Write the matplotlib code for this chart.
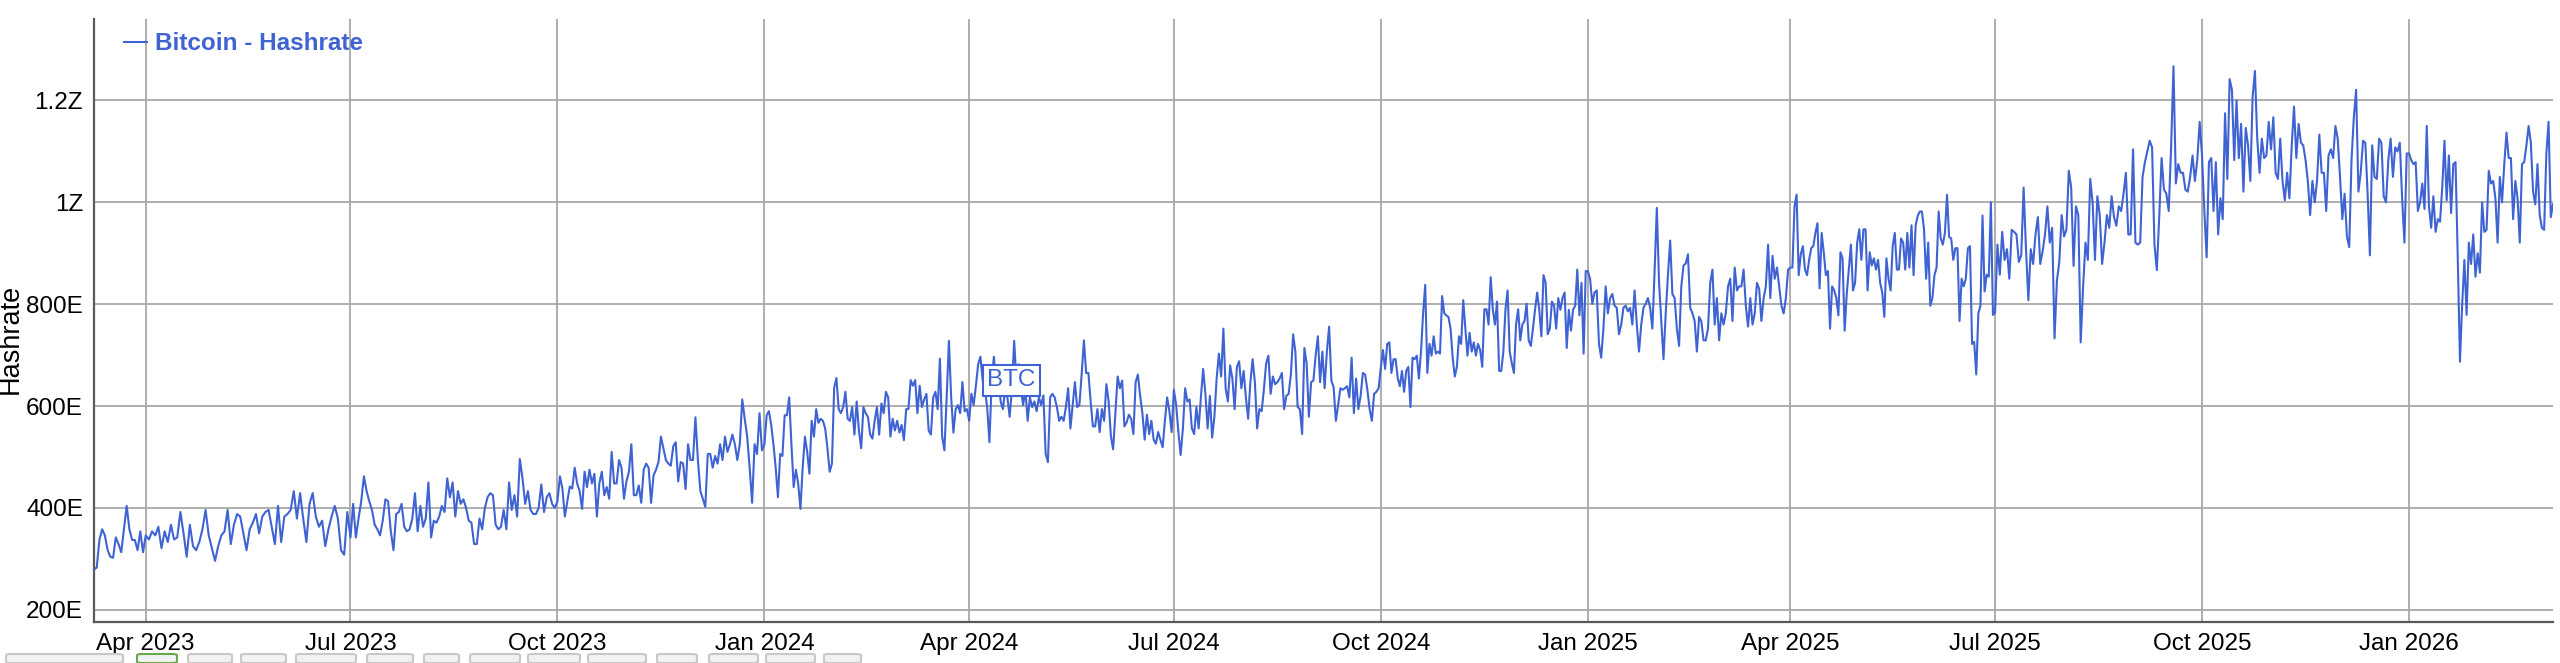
import numpy as np
import matplotlib
matplotlib.use('Agg')
import matplotlib.pyplot as plt
import matplotlib.dates as mdates
from matplotlib.patches import FancyBboxPatch

plt.rcParams['font.family'] = ['Liberation Sans', 'DejaVu Sans']

# Bitcoin hashrate (EH/s)
hr_2023_q1 = [279, 283, 338, 358, 346, 317, 304, 302, 342, 329, 313, 358, 404, 358, 337, 337, 317, 354, 313]
hr_2023_q2 = [346, 338, 354, 346, 363, 321, 354, 333, 367, 338, 342, 392, 350, 304, 367, 325, 317, 333, 358, 396,
              346, 321, 296, 325, 346, 354, 396, 329, 367, 388, 383, 350, 317, 358, 371, 388, 350, 383, 392, 396,
              363, 329, 404, 333, 383, 388, 396, 433, 379, 429, 379, 333, 408, 429, 383, 363, 375, 325, 358, 383,
              404, 379, 317, 308, 392]
hr_2023_q3 = [342, 408, 342, 379, 413, 462, 433, 413, 396, 367, 358, 346, 375, 417, 413, 354, 317, 388, 392, 408,
              363, 354, 358, 379, 429, 354, 404, 363, 379, 450, 342, 375, 371, 383, 404, 392, 458, 421, 450, 383,
              433, 408, 417, 400, 375, 371, 329, 329, 379, 358, 400, 421, 429, 425, 367, 358, 363, 396, 358, 450,
              396, 425, 383, 496, 458, 408, 433, 396, 388, 388, 400, 446, 392, 421, 429, 408, 400]
hr_2023_q4 = [413, 462, 438, 383, 413, 442, 438, 479, 448, 433, 398, 471, 441, 475, 448, 467, 383, 448, 471, 425,
              441, 418, 510, 448, 448, 494, 479, 418, 452, 471, 525, 425, 425, 444, 410, 475, 487, 479, 410, 464,
              475, 490, 540, 517, 494, 487, 483, 521, 529, 452, 490, 487, 437, 525, 494, 494, 578, 494, 433, 418,
              402, 506, 506, 479, 502, 487, 525, 494, 540, 510, 525, 544, 525, 494, 525, 613, 575, 540, 479, 410,
              525, 506, 586, 513]
hr_2024_q1 = [525, 582, 590, 563, 525, 479, 421, 506, 502, 582, 582, 617, 525, 441, 475, 448, 398, 479, 540, 510,
              467, 571, 540, 594, 567, 575, 571, 556, 517, 471, 487, 636, 655, 594, 586, 598, 628, 575, 571, 598,
              544, 609, 552, 517, 598, 586, 579, 544, 536, 571, 598, 544, 605, 586, 628, 617, 540, 575, 552, 571,
              548, 563, 533, 594, 594, 651, 640, 651, 586, 640, 598, 613, 624, 552, 544, 617, 628, 594, 693, 540,
              513, 617, 728, 617, 548, 594, 602, 586, 647, 590, 594]
hr_2024_q2 = [571, 624, 602, 640, 682, 697, 651, 632, 598, 529, 647, 697, 636, 663, 609, 594, 632, 617, 579, 632,
              728, 651, 682, 632, 602, 632, 571, 617, 598, 609, 590, 617, 602, 621, 506, 490, 617, 624, 617, 598,
              571, 579, 571, 598, 635, 556, 602, 647, 598, 602, 662, 729, 665, 665, 609, 560, 560, 594, 549, 594,
              571, 643, 609, 541, 515, 586, 658, 635, 650, 560, 568, 583, 575, 545, 647, 662, 620, 586, 534, 583,
              545, 571, 534, 526, 549, 534, 519, 571, 617, 590, 549]
hr_2024_q3 = [632, 602, 549, 504, 556, 635, 609, 613, 556, 545, 598, 556, 617, 673, 624, 556, 620, 538, 579, 654,
              703, 658, 752, 635, 609, 680, 654, 594, 677, 688, 635, 669, 617, 575, 647, 692, 647, 556, 594, 590,
              632, 684, 699, 624, 658, 643, 647, 654, 665, 594, 620, 624, 662, 741, 707, 598, 594, 545, 714, 684,
              579, 647, 650, 699, 737, 647, 707, 635, 707, 756, 650, 637, 571, 602, 635, 632, 635, 639, 617, 695,
              586, 654, 594, 620, 665, 662, 632, 594, 571, 624, 628, 635]
hr_2024_q4 = [677, 710, 673, 722, 725, 665, 692, 692, 654, 639, 669, 628, 669, 677, 598, 695, 692, 699, 654, 707,
              782, 838, 665, 722, 699, 737, 703, 707, 703, 816, 782, 778, 775, 752, 695, 658, 677, 737, 722, 808,
              752, 699, 744, 707, 725, 699, 722, 710, 677, 790, 790, 760, 853, 790, 760, 805, 669, 669, 707, 790,
              827, 707, 684, 665, 760, 790, 729, 760, 767, 801, 729, 718, 752, 789, 823, 789, 737, 857, 842, 741,
              752, 805, 797, 752, 812, 789, 812, 823, 714, 789, 748, 789, 797, 868, 778, 842, 703, 865]
hr_2025_q1 = [865, 850, 801, 823, 827, 722, 695, 752, 835, 782, 812, 820, 797, 793, 741, 760, 793, 797, 786, 793,
              760, 827, 760, 707, 760, 793, 801, 812, 793, 752, 865, 989, 842, 767, 692, 782, 857, 925, 820, 812,
              752, 718, 835, 876, 880, 898, 793, 782, 767, 707, 775, 767, 729, 729, 752, 842, 868, 760, 812, 729,
              782, 760, 782, 835, 850, 767, 872, 827, 835, 835, 868, 797, 756, 812, 760, 782, 842, 830, 767, 812,
              835, 917, 812, 895, 850, 872, 835, 797, 782, 812, 868]
hr_2025_q2 = [872, 872, 992, 1015, 857, 898, 914, 868, 857, 887, 910, 914, 940, 959, 831, 940, 902, 857, 865, 752,
              835, 827, 812, 778, 902, 890, 748, 820, 868, 917, 827, 842, 921, 947, 887, 947, 947, 827, 902, 876,
              890, 868, 887, 842, 823, 775, 890, 850, 827, 914, 940, 868, 868, 929, 921, 868, 940, 872, 955, 857,
              955, 974, 982, 982, 947, 850, 921, 797, 812, 857, 872, 982, 929, 917, 940, 1015, 932, 929, 887, 910,
              910, 767, 850, 835, 850, 910, 914, 722, 726, 662, 782, 797, 974, 825, 858, 854, 1000, 779]
hr_2025_q3 = [783, 917, 858, 942, 887, 908, 850, 946, 942, 937, 883, 896, 1029, 908, 808, 908, 879, 937, 971, 879,
              904, 937, 992, 921, 950, 733, 846, 883, 975, 933, 946, 1062, 1029, 875, 992, 975, 725, 833, 921, 887,
              1046, 1000, 887, 1012, 975, 879, 921, 975, 950, 1012, 971, 954, 992, 983, 1017, 1058, 937, 937, 1104,
              921, 917, 921, 1050, 1079, 1100, 1121, 1108, 917, 867, 971, 1087, 1025, 1017, 983, 1108, 1267, 1037,
              1075, 1058, 1058, 1025, 1021, 1050, 1092, 1042, 1083, 1158]
hr_2025_q4 = [1092, 983, 892, 1079, 1087, 983, 1079, 937, 1008, 967, 1175, 1046, 1242, 1221, 1083, 1200, 1087,
              1154, 1021, 1146, 1112, 1042, 1208, 1258, 1125, 1058, 1125, 1087, 1092, 1158, 1104, 1167, 1058, 1046,
              1125, 1042, 1004, 1058, 1008, 1112, 1188, 1087, 1154, 1117, 1112, 1083, 1042, 975, 1042, 1000, 1042,
              1133, 1058, 1058, 983, 1092, 1104, 1087, 1150, 1125, 1050, 967, 1017, 933, 912, 1083, 1167, 1221,
              1021, 1058, 1121, 1117, 1017, 896, 1112, 1050, 1046, 1125, 1117, 1012, 1000, 1083, 1125, 1050, 1108,
              1100, 1117, 1008, 921, 1096]
hr_2026_q1 = [1096, 1083, 1075, 1079, 983, 1000, 1037, 987, 1150, 992, 950, 1012, 942, 967, 962, 1029, 1121, 1004,
              1092, 979, 1075, 1079, 892, 687, 800, 887, 779, 921, 879, 937, 854, 900, 862, 1000, 942, 946, 1062,
              1037, 1042, 1008, 921, 1050, 1000, 1075, 1137, 1087, 1087, 967, 1042, 1008, 921, 1075, 1079, 1112,
              1150, 1117, 1021, 996, 1075, 975, 950, 946, 1096, 1158, 971, 996]

# date span covered by each block
segments = [
    ('2023-03-09', '2023-04-01', hr_2023_q1),
    ('2023-04-01', '2023-07-01', hr_2023_q2),
    ('2023-07-01', '2023-10-01', hr_2023_q3),
    ('2023-10-01', '2024-01-01', hr_2023_q4),
    ('2024-01-01', '2024-04-01', hr_2024_q1),
    ('2024-04-01', '2024-07-01', hr_2024_q2),
    ('2024-07-01', '2024-10-01', hr_2024_q3),
    ('2024-10-01', '2025-01-01', hr_2024_q4),
    ('2025-01-01', '2025-04-01', hr_2025_q1),
    ('2025-04-01', '2025-07-01', hr_2025_q2),
    ('2025-07-01', '2025-10-01', hr_2025_q3),
    ('2025-10-01', '2026-01-01', hr_2025_q4),
    ('2026-01-01', '2026-03-06', hr_2026_q1),
]

xs, ys = [], []
for i, (start, end, vals) in enumerate(segments):
    last = i == len(segments) - 1
    t = np.linspace(mdates.datestr2num(start), mdates.datestr2num(end), len(vals), endpoint=last)
    xs.append(t)
    ys.append(np.array(vals, dtype=float))
x = np.concatenate(xs)
y = np.concatenate(ys)

blue = '#3f63d2'
grid_c = '#a8a8a8'

fig = plt.figure(figsize=(25.6, 6.63), dpi=100)
ax = fig.add_axes([94 / 2560, 41 / 663, (2553 - 94) / 2560, (622 - 19) / 663])

ax.plot(x, y, color=blue, lw=1.5, label='Bitcoin - Hashrate', zorder=3)

ax.set_xlim(x[0], x[-1])
ax.set_ylim(176, 1360)
ax.set_yticks([200, 400, 600, 800, 1000, 1200])
ax.yaxis.set_major_formatter(
    plt.FuncFormatter(lambda v, p: f'{v:.0f}E' if v < 1000 else f'{v / 1000:g}Z'))
ax.xaxis.set_major_locator(mdates.MonthLocator(bymonth=[1, 4, 7, 10]))
ax.xaxis.set_major_formatter(mdates.DateFormatter('%b %Y'))

ax.grid(True, color=grid_c, lw=1.3, zorder=0)
ax.tick_params(length=0, labelsize=17.5, colors='black', pad=8)
ax.tick_params(axis='x', pad=8)
for s in ['top', 'right']:
    ax.spines[s].set_visible(False)
for s in ['left', 'bottom']:
    ax.spines[s].set_color('#5a5a5a')
    ax.spines[s].set_linewidth(1.6)

ax.set_ylabel('Hashrate', fontsize=19.5)
ax.yaxis.set_label_coords(-0.0285, 0.47)

leg = ax.legend(loc='upper left', bbox_to_anchor=(0.012, 0.978), frameon=False,
                fontsize=17.5, handlelength=0.95, handletextpad=0.35, borderpad=0, borderaxespad=0)
for txt in leg.get_texts():
    txt.set_color(blue)
    txt.set_fontweight('bold')

# series flag
ax.text(0.373, 0.401, 'BTC', transform=ax.transAxes, ha='center', va='center', fontsize=17.5,
        color=blue, zorder=5,
        bbox=dict(boxstyle='square,pad=0.18', fc='white', ec=blue, lw=1.5))

# range selector buttons peeking at the bottom edge
btn_x = [6, 137, 188, 241, 296, 367, 424, 470, 528, 588, 657, 709, 766, 824]
btn_w = [117, 40, 44, 45, 60, 46, 35, 50, 52, 58, 40, 49, 49, 37]
for i, (bx, bw) in enumerate(zip(btn_x, btn_w)):
    ec = '#6aa84f' if i == 1 else '#c8c8c8'
    fig.patches.append(FancyBboxPatch((bx / 2560, 0.0), bw / 2560, 9 / 663,
                                      boxstyle='round,pad=0,rounding_size=0.002',
                                      transform=fig.transFigure, fc='#f2f2f2', ec=ec, lw=1.5))

fig.savefig('out.png', dpi=100)
